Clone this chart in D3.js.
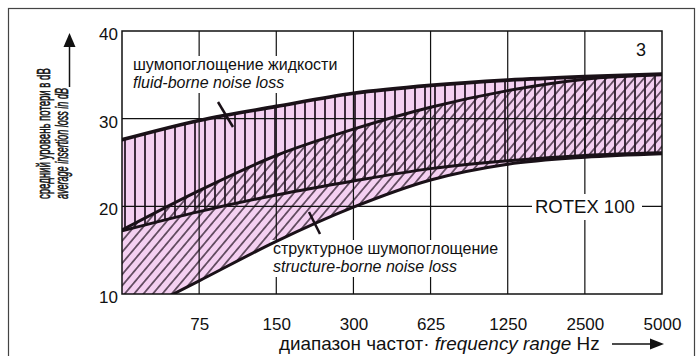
<!DOCTYPE html>
<html><head><meta charset="utf-8">
<script src="https://cdn.jsdelivr.net/npm/d3@7"></script>
<style>
html,body{margin:0;padding:0;background:#fff;}
svg{display:block;}
text{font-family:"Liberation Sans", Arial, Helvetica, sans-serif;fill:#111;}
</style></head><body>
<svg id="chart" width="699" height="356"></svg>
<script>
// octave steps along the x axis (0 = half of the first labelled band)
const octaves = [0, 1, 2, 3, 4, 5, 6, 7];
const freqLabels = ["75", "150", "300", "625", "1250", "2500", "5000"];
const yTicks = [10, 20, 30, 40];

// insertion loss bands, dB at each octave step
const fluidUpper  = [27.6, 29.8, 31.4, 32.9, 33.8, 34.4, 34.8, 35.1];
const fluidLower  = [17.2, 19.4, 21.3, 22.9, 24.3, 25.2, 25.8, 26.1];
const structUpper = [17.3, 21.8, 25.8, 28.8, 31.3, 33.2, 34.5, 35.0];
const structLower = [7.0, 11.5, 16.0, 19.9, 23.0, 24.8, 25.6, 26.0];

const svg = d3.select("#chart");
const plot = {left: 122, right: 662, top: 31, bottom: 294};

const x = d3.scaleLinear().domain([0, 7]).range([plot.left, plot.right]);
const y = d3.scaleLinear().domain([10, 40]).range([plot.bottom, plot.top]);

const pink = "#f4d0f1";
const hatchInk = "#2a1a29";
const curveInk = "#1a1118";

const defs = svg.append("defs");
defs.append("clipPath").attr("id", "plotClip")
  .append("rect").attr("x", plot.left).attr("y", plot.top)
  .attr("width", plot.right - plot.left).attr("height", plot.bottom - plot.top);

const vh = defs.append("pattern").attr("id", "vhatch")
  .attr("patternUnits", "userSpaceOnUse").attr("width", 10).attr("height", 10);
vh.append("path").attr("d", "M5,0V10").attr("stroke", hatchInk).attr("stroke-width", 1.8);

const dh = defs.append("pattern").attr("id", "dhatch")
  .attr("patternUnits", "userSpaceOnUse").attr("width", 7.2).attr("height", 10)
  .attr("patternTransform", "rotate(40)");
dh.append("path").attr("d", "M3.6,-1V11").attr("stroke", hatchInk).attr("stroke-width", 1.3);

// outer frame
svg.append("rect").attr("x", 8.5).attr("y", 8.5).attr("width", 686).attr("height", 360)
  .attr("fill", "none").attr("stroke", "#444").attr("stroke-width", 1.2);

const band = (lo, hi) => d3.area()
  .x((d, i) => x(octaves[i]))
  .y0((d, i) => y(lo[i]))
  .y1((d, i) => y(hi[i]))
  .curve(d3.curveMonotoneX)(octaves);

const line = vals => d3.line()
  .x((d, i) => x(octaves[i]))
  .y((d, i) => y(vals[i]))
  .curve(d3.curveMonotoneX)(octaves);

const g = svg.append("g").attr("clip-path", "url(#plotClip)");
g.append("path").attr("d", band(fluidLower, fluidUpper)).attr("fill", pink);
g.append("path").attr("d", band(structLower, structUpper)).attr("fill", pink);
g.append("path").attr("d", band(fluidLower, fluidUpper)).attr("fill", "url(#vhatch)");
g.append("path").attr("d", band(structLower, structUpper)).attr("fill", "url(#dhatch)");

// grid
const grid = svg.append("g").attr("stroke", "#111").attr("stroke-width", 1.2);
grid.selectAll("line.v").data(octaves.slice(1, 7)).join("line")
  .attr("x1", d => x(d)).attr("x2", d => x(d))
  .attr("y1", plot.top).attr("y2", plot.bottom);
grid.selectAll("line.h").data([20, 30]).join("line")
  .attr("x1", plot.left).attr("x2", plot.right)
  .attr("y1", d => y(d)).attr("y2", d => y(d));

// label backgrounds
svg.append("rect").attr("x", 129).attr("y", 56).attr("width", 215).attr("height", 37).attr("fill", "#fff");
svg.append("rect").attr("x", 270).attr("y", 240).attr("width", 235).attr("height", 37).attr("fill", "#fff");
svg.append("rect").attr("x", 532).attr("y", 194).attr("width", 110).attr("height", 26).attr("fill", "#fff");

// band outlines
const outlines = svg.append("g").attr("clip-path", "url(#plotClip)")
  .attr("fill", "none").attr("stroke", curveInk).attr("stroke-linecap", "round");
outlines.append("path").attr("d", line(fluidUpper)).attr("stroke-width", 3.6);
outlines.append("path").attr("d", line(structUpper)).attr("stroke-width", 3);
outlines.append("path").attr("d", line(fluidLower)).attr("stroke-width", 3);
outlines.append("path").attr("d", line(structLower)).attr("stroke-width", 3);

// plot frame
svg.append("rect").attr("x", plot.left).attr("y", plot.top)
  .attr("width", plot.right - plot.left).attr("height", plot.bottom - plot.top)
  .attr("fill", "none").attr("stroke", "#111").attr("stroke-width", 1.5);

// axes
const xAxis = d3.axisBottom(x).tickValues(octaves.slice(1))
  .tickFormat(d => freqLabels[d - 1]).tickSize(0).tickPadding(0);
const xg = svg.append("g").attr("transform", `translate(0,${plot.bottom})`).call(xAxis);
xg.select(".domain").remove();
xg.selectAll("text").attr("y", 36).attr("dy", null)
  .style("font-size", "17px").style("font-family", "'Liberation Sans', Arial, sans-serif").attr("fill", "#111");

const yAxis = d3.axisLeft(y).tickValues(yTicks).tickSize(0).tickPadding(0);
const yg = svg.append("g").attr("transform", `translate(${plot.left - 4},0)`).call(yAxis);
yg.select(".domain").remove();
yg.selectAll("text").attr("dy", "0.68em").attr("y", -3)
  .style("font-size", "17px").style("font-family", "'Liberation Sans', Arial, sans-serif").attr("fill", "#111");

// text helper: optional width fit by scaling along the baseline
const ann = (tx, ty, parts, size, fitWidth, rotate, family) => {
  const t = svg.append("text").style("font-size", size + "px");
  if (family) t.style("font-family", family);
  parts.forEach(p => t.append("tspan").text(p[0]).style("font-style", p[1] ? "italic" : "normal"));
  const s = fitWidth ? fitWidth / t.node().getComputedTextLength() : 1;
  t.attr("transform", `translate(${tx},${ty})${rotate ? " rotate(-90)" : ""} scale(${s},1)`);
  return t;
};
ann(133, 70, [["шумопоглощение жидкости", 0]], 16);
ann(133, 88, [["fluid-borne noise loss", 1]], 16);
ann(273, 254, [["структурное шумопоглощение", 0]], 16);
ann(273, 272, [["structure-borne noise loss", 1]], 16);
ann(535, 213, [["ROTEX 100", 0]], 18.5);
ann(636, 56, [["3", 0]], 18);

// leader lines
svg.append("line").attr("x1", 218).attr("y1", 102).attr("x2", 233).attr("y2", 127)
  .attr("stroke", curveInk).attr("stroke-width", 2.5);
svg.append("line").attr("x1", 309).attr("y1", 212).attr("x2", 320).attr("y2", 234)
  .attr("stroke", curveInk).attr("stroke-width", 2.5);

// x axis title with arrow
ann(279, 350, [["диапазон частот· ", 0], ["frequency range", 1], [" Hz", 0]], 17.5, 321);
svg.append("line").attr("x1", 612).attr("y1", 344).attr("x2", 652).attr("y2", 344)
  .attr("stroke", "#111").attr("stroke-width", 1.5);
svg.append("path").attr("d", "M664,344 L650,338.5 L650,349.5 Z").attr("fill", "#111");

// y axis title (condensed face) with arrow
const narrow = "'Liberation Sans Narrow', 'Arial Narrow', 'Liberation Sans', Arial, sans-serif";
ann(49.5, 199, [["средний уровень потери в dB", 0]], 18, 131, true, narrow)
  .attr("stroke", "#111").attr("stroke-width", 0.6);
ann(68, 199, [["average insertion loss in dB", 1]], 18, 111, true, narrow)
  .attr("stroke", "#111").attr("stroke-width", 0.6);
svg.append("line").attr("x1", 69.5).attr("y1", 87).attr("x2", 69.5).attr("y2", 44)
  .attr("stroke", "#111").attr("stroke-width", 1.5);
svg.append("path").attr("d", "M69.5,33 L63.5,47 L75.5,47 Z").attr("fill", "#111");
</script>
</body></html>
